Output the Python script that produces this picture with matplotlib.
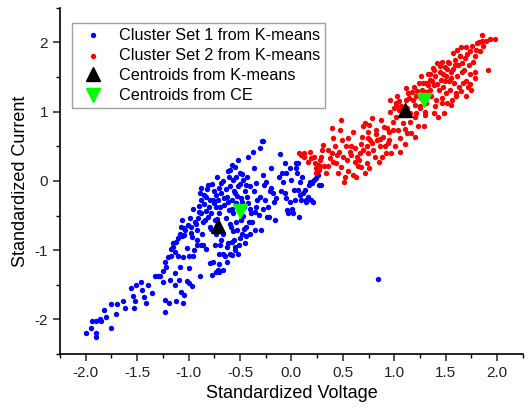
import numpy as np
import matplotlib
matplotlib.use("Agg")
import matplotlib.pyplot as plt
from matplotlib.ticker import MultipleLocator, FormatStrFormatter

plt.rcParams['font.family'] = ['Liberation Sans', 'DejaVu Sans']
plt.rcParams['axes.unicode_minus'] = False

# standardized (voltage, current) pairs, cluster 1 (blue)
set1_v = [-2.00, -1.945, -1.90, -1.90, -1.94, -1.90, -1.86, -1.85, -1.80, -1.75,
          -1.82, -1.75, -1.70, -1.71, -1.64, -1.62, -1.56, -1.54, -1.52, -1.53,
          -1.51, -1.46, -1.45, -1.43, -1.41, -1.39, -1.36, -1.33, -1.28, -1.25,
          -1.23, -1.22, -1.23, -1.23, -1.19, -1.18, -1.17, -1.15, -1.13, -1.13,
          -1.12, -1.09, -1.07, -1.05, -1.04, -1.02, -1.00, -0.995, -0.97, -0.89,
          -1.17, -1.15, -1.12, -1.10, -1.08, -1.07, -1.06, -1.04, -1.03, -1.02,
          -1.00, -0.99, -0.98, -0.97, -0.96, -0.94, -0.92, -0.92, -0.91, -0.90,
          -0.89, -0.88, -0.875, -0.87, -0.86, -0.85, -0.84, -0.83, -0.83, -0.81,
          -0.80, -0.79, -0.79, -0.78, -0.77, -0.76, -0.755, -0.745, -0.735, -0.73,
          -0.72, -0.71, -0.71, -0.70, -0.70, -0.69, -0.68, -0.68, -0.67, -0.665,
          -0.66, -0.65, -0.64, -0.63, -0.625, -0.615, -0.605, -0.60, -0.60, -0.59,
          -0.58, -0.58, -0.575, -0.567, -0.567, -0.56, -0.55, -0.55, -0.54, -0.535,
          -0.53, -0.52, -0.52, -0.51, -0.50, -0.495, -0.49, -0.48, -0.47, -0.46,
          -0.45, -0.445, -0.44, -0.43, -0.42, -0.42, -0.41, -0.405, -0.39, -0.37,
          -0.366, -0.357, -0.347, -0.34, -0.32, -0.31, -0.31, -0.30, -0.29, -0.275,
          -0.275, -0.27, -0.26, -0.25, -0.24, -0.23, -0.21, -0.195, -0.18, -0.17,
          -0.16, -0.107, -0.087, -0.08, -0.065, -0.065, -0.055, -0.049, -0.042, -0.032,
          -0.016, -0.01, 0.0, 0.01, 0.016, 0.023, 0.032, 0.042, 0.049, 0.055,
          0.065, 0.065, 0.075, 0.081, 0.087, 0.097, 0.107, 0.113, 0.13, 0.14,
          0.146, 0.162, 0.172, 0.178, 0.194, 0.204, 0.21, 0.217, 0.237, 0.26,
          0.27, 0.29, 0.843, -0.83, -0.76, -0.73, -0.70, -0.88, -0.85, -0.82,
          -0.79, -0.77, -0.75, -0.73, -0.70, -0.69, -0.66, -0.64, -0.62, -0.61,
          -0.58, -0.56, -0.54, -0.53, -0.50, -0.48, -0.47, -0.45, -0.44, -0.90,
          -0.93, -0.96, -0.98, -1.01, -1.04, -1.06, -0.86, -0.81, -0.78, -0.72,
          -0.68, -0.63, -0.60, -0.58, -0.55, -0.52, -0.50, -0.46, -0.38, -0.35,
          -0.33, -0.28, -0.22, -0.20, -0.15, -0.12, -0.10, -1.10, -1.13, -1.20,
          -1.25, -1.30, -1.05, -1.08, -0.92, -0.95, -0.88, -0.74, -0.70, -0.67,
          -0.60, -0.57, -0.40, -0.48, -0.55, -0.62, -0.67, -0.43, -0.40, -0.36]
set1_i = [-2.19, -2.13, -2.19, -2.25, -2.02, -2.02, -2.00, -2.03, -1.97, -2.13,
          -1.86, -1.78, -1.78, -1.92, -1.74, -1.84, -1.55, -1.66, -1.74, -1.84,
          -1.50, -1.46, -1.58, -1.67, -1.76, -1.50, -1.62, -1.38, -1.38, -1.46,
          -1.17, -1.24, -1.72, -1.89, -1.77, -1.43, -1.09, -0.95, -1.33, -1.50,
          -1.74, -1.43, -1.60, -1.77, -1.65, -1.45, -1.26, -1.47, -1.52, -1.37,
          -0.99, -0.90, -0.88, -1.09, -0.76, -0.66, -0.56, -0.78, -0.71, -0.97,
          -1.09, -0.54, -0.66, -0.81, -1.09, -0.60, -0.71, -0.93, -0.54, -0.36,
          -0.18, -0.27, -0.46, -0.76, -0.93, -0.33, -0.56, -0.23, -0.44, -0.06,
          -0.37, -0.66, -1.19, -0.47, -1.36, -0.27, -0.15, -0.56, -0.76, -0.37,
          0.06, -0.27, -1.29, -1.05, -0.47, -0.93, -0.18, -0.03, -0.76, -1.29,
          -0.35, -1.09, -0.54, -0.23, -1.17, -0.90, -0.42, 0.16, -0.08, -0.66,
          -0.27, 0.23, -1.07, 0.01, -0.47, -0.85, -0.18, -1.00, 0.06, -0.32,
          -0.71, 0.30, -0.08, -0.93, 0.11, -0.56, -0.25, -0.76, 0.01, -0.37,
          -0.90, -0.06, -0.66, -0.23, 0.35, -0.32, -0.59, -0.76, -0.47, 0.42,
          0.18, -0.71, -0.03, -0.37, -0.49, 0.47, -0.23, -0.71, 0.57, 0.57,
          0.09, -0.06, -0.27, -0.01, -0.52, -0.37, -0.15, 0.18, -0.18, -0.30,
          -0.56, 0.39, 0.11, -0.01, 0.26, -0.18, -0.25, 0.11, -0.42, -0.47,
          -0.30, 0.18, 0.01, -0.40, -0.47, -0.13, -0.27, 0.18, 0.26, 0.11,
          0.26, -0.13, -0.52, -0.20, -0.01, -0.27, 0.06, -0.18, -0.13, -0.30,
          -0.27, -0.23, -0.06, -0.01, -0.27, -0.03, -0.30, 0.01, 0.04, 0.09,
          -0.06, -0.06, -1.41, -0.99, -1.17, -1.31, -1.31, -0.10, -0.20, -0.12,
          -0.28, -0.05, -0.32, -0.20, -0.10, -0.38, -0.25, -0.12, -0.30, 0.05,
          -0.40, -0.15, -0.60, -0.22, -0.05, -0.30, -0.50, -0.15, -0.80, -0.45,
          -0.62, -0.40, -0.75, -0.64, -0.68, -0.80, -0.60, -0.52, -0.70, -0.55,
          -0.85, -0.95, -1.05, -0.88, -0.95, -1.05, -0.82, -0.70, -0.60, -0.45,
          -0.28, -0.40, -0.52, -0.10, -0.25, 0.05, -0.15, -0.82, -1.02, -1.10,
          -1.30, -1.38, -1.10, -1.25, -0.85, -1.00, -0.92, -0.92, -1.20, -1.05,
          -0.62, -0.72, -0.40, 0.10, 0.20, 0.15, 0.00, 0.05, -0.08, -0.15]

# cluster 2 (red)
set2_v = [0.071, 0.097, 0.12, 0.178, 0.19, 0.227, 0.237, 0.243, 0.26, 0.27,
          0.28, 0.29, 0.30, 0.31, 0.34, 0.357, 0.373, 0.39, 0.39, 0.405,
          0.42, 0.437, 0.454, 0.46, 0.47, 0.486, 0.496, 0.50, 0.51, 0.52,
          0.535, 0.55, 0.567, 0.58, 0.60, 0.616, 0.625, 0.64, 0.65, 0.664,
          0.68, 0.69, 0.70, 0.713, 0.72, 0.73, 0.736, 0.745, 0.745, 0.755,
          0.76, 0.78, 0.79, 0.81, 0.827, 0.83, 0.85, 0.86, 0.875, 0.89,
          0.91, 0.92, 0.93, 0.95, 0.956, 0.963, 0.97, 0.99, 0.995, 1.005,
          1.015, 1.02, 1.03, 1.037, 1.047, 1.053, 1.07, 1.086, 1.10, 1.11,
          1.118, 1.125, 1.135, 1.15, 1.167, 1.18, 1.19, 1.20, 1.21, 1.216,
          1.23, 1.24, 1.25, 1.264, 1.274, 1.287, 1.297, 1.306, 1.313, 1.33,
          1.345, 1.35, 1.36, 1.378, 1.384, 1.39, 1.40, 1.41, 1.417, 1.426,
          1.436, 1.44, 1.45, 1.46, 1.468, 1.475, 1.48, 1.49, 1.50, 1.507,
          1.514, 1.52, 1.533, 1.54, 1.556, 1.566, 1.57, 1.58, 1.588, 1.598,
          1.605, 1.61, 1.63, 1.637, 1.653, 1.663, 1.67, 1.686, 1.695, 1.70,
          1.718, 1.734, 1.74, 1.75, 1.767, 1.783, 1.79, 1.80, 1.83, 1.848,
          1.857, 1.896, 1.912, 1.93, 1.977, 1.02, 1.05, 1.08, 1.12, 1.14,
          1.17, 1.20, 1.22, 1.26, 1.28, 1.31, 1.33, 1.35, 1.37, 1.39,
          1.42, 1.44, 1.47, 1.49, 1.51, 1.53, 1.55, 1.57, 1.59, 1.62,
          1.64, 1.66, 1.68, 1.71, 1.73, 1.76, 1.78, 1.82, 1.86, 1.60,
          1.65, 1.70, 1.74, 1.78, 1.55, 1.46, 1.40, 1.30, 1.25, 0.99,
          0.95, 0.90, 0.86, 0.82, 0.78, 0.74, 0.70, 0.66, 0.62, 0.58,
          0.54, 0.48, 0.44, 0.40, 0.36, 0.32, 0.28, 0.25, 0.22, 0.16,
          0.12, 0.55, 0.60, 0.68, 0.75, 0.88, 0.94, 1.06, 1.10, 1.15, 1.20]
set2_i = [0.41, 0.38, 0.34, 0.42, 0.33, 0.26, 0.18, 0.11, 0.23, 0.16,
          0.21, 0.35, 0.45, 0.52, 0.11, 0.21, 0.33, 0.40, 0.76, 0.62,
          0.50, 0.26, 0.11, 0.42, 0.74, 0.88, 0.59, 0.35, -0.01, 0.06,
          0.50, 0.62, 0.42, 0.50, 0.71, 0.28, 0.06, 0.35, 0.21, 0.40,
          0.54, 0.64, 0.79, 0.11, 0.84, 0.50, 0.26, 0.70, 0.40, 0.81,
          0.59, 0.91, 0.45, 0.35, 0.73, 0.59, 0.28, 0.50, 0.88, 0.64,
          0.50, 0.40, 0.76, 0.59, 1.00, 1.17, 0.40, 0.74, 1.05, 0.50,
          1.12, 0.93, 1.22, 0.74, 1.03, 0.42, 1.08, 0.83, 0.54, 1.34,
          1.17, 0.69, 1.27, 0.98, 0.69, 1.17, 1.36, 0.64, 0.98, 1.22,
          0.79, 1.41, 1.08, 1.51, 1.32, 0.79, 0.95, 1.41, 1.13, 1.55,
          1.32, 1.46, 1.22, 1.63, 0.98, 1.39, 1.51, 1.17, 1.70, 0.93,
          1.32, 1.58, 1.46, 1.13, 1.72, 1.36, 0.98, 1.65, 1.51, 1.27,
          1.13, 1.72, 1.44, 1.32, 1.58, 1.17, 1.85, 1.41, 1.68, 1.27,
          1.89, 1.51, 1.35, 1.80, 1.94, 1.58, 1.41, 1.77, 1.22, 1.94,
          1.36, 1.55, 1.87, 1.32, 1.72, 1.49, 1.89, 1.99, 1.87, 2.11,
          2.02, 2.02, 1.60, 2.05, 2.05, 1.08, 1.15, 1.00, 1.05, 1.20,
          1.28, 1.10, 1.30, 1.20, 1.42, 1.28, 1.38, 1.55, 1.45, 1.60,
          1.40, 1.66, 1.55, 1.45, 1.62, 1.70, 1.48, 1.62, 1.75, 1.68,
          1.80, 1.70, 1.60, 1.84, 1.68, 1.95, 1.80, 2.00, 1.95, 1.22,
          1.30, 1.45, 1.40, 1.58, 1.10, 1.20, 1.08, 1.00, 1.05, 0.85,
          0.70, 0.78, 0.60, 0.68, 0.55, 0.62, 0.45, 0.30, 0.48, 0.38,
          0.30, 0.20, 0.38, 0.28, 0.45, 0.22, 0.30, 0.15, 0.35, 0.28,
          0.40, 0.15, 0.08, 0.20, 0.18, 0.35, 0.55, 0.62, 0.75, 0.85, 0.92]

# cluster centres
km_v = [-0.71, 1.10]
km_i = [-0.65, 1.03]
ce_v = [-0.50, 1.287]
ce_i = [-0.44, 1.17]

fig = plt.figure(figsize=(5.32, 4.13), dpi=100)
ax = fig.add_axes([0.1128, 0.1429, 0.870, 0.838])

ax.scatter(set1_v, set1_i, s=15, c='#0000ff', linewidths=0, label='Cluster Set 1 from K-means')
ax.scatter(set2_v, set2_i, s=15, c='#ff0000', linewidths=0, label='Cluster Set 2 from K-means')
ax.plot(km_v, km_i, ls='none', marker='^', ms=10, color='black', label='Centroids from K-means')
ax.plot(ce_v, ce_i, ls='none', marker='v', ms=10, color='#00ff00', label='Centroids from CE')

ax.set_xlim(-2.25, 2.25)
ax.set_ylim(-2.5, 2.5)
ax.xaxis.set_major_locator(MultipleLocator(0.5))
ax.xaxis.set_minor_locator(MultipleLocator(0.25))
ax.yaxis.set_major_locator(MultipleLocator(1))
ax.yaxis.set_minor_locator(MultipleLocator(0.5))
ax.xaxis.set_major_formatter(FormatStrFormatter('%.1f'))
ax.yaxis.set_major_formatter(FormatStrFormatter('%d'))

for side in ('top', 'right'):
    ax.spines[side].set_visible(False)
for side in ('left', 'bottom'):
    ax.spines[side].set_linewidth(1.2)
ax.tick_params(which='major', direction='out', length=5, width=1.1, labelsize=11, colors='#222222')
ax.tick_params(which='minor', direction='out', length=3, width=1.0)

ax.set_xlabel('Standardized Voltage', fontsize=13, labelpad=4)
ax.set_ylabel('Standardized Current', fontsize=13, labelpad=4)

leg = ax.legend(loc='upper left', bbox_to_anchor=(0.026, 0.957), borderaxespad=0,
                fontsize=11.7, frameon=True, fancybox=False, edgecolor='#888888',
                handletextpad=0.6, labelspacing=0.32, borderpad=0.3, markerscale=1.0)
leg.get_frame().set_linewidth(1.0)

fig.savefig('out.png', dpi=100)
